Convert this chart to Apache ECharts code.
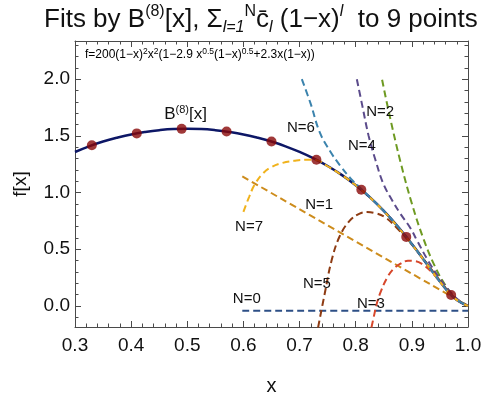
<!DOCTYPE html>
<html>
<head>
<meta charset="utf-8">
<script src="https://cdn.jsdelivr.net/npm/echarts@6/dist/echarts.min.js"></script>
<style>
  html, body { margin: 0; padding: 0; background: #fff; }
  #chart { width: 485px; height: 401px; }
</style>
</head>
<body>
<div id="chart"></div>
<script>
// tick labels
const xTicks = [0.3, 0.4, 0.5, 0.6, 0.7, 0.8, 0.9, 1.0];
const yTicks = [0.0, 0.5, 1.0, 1.5, 2.0];

// the 9 sampled points
const pointX = [0.33, 0.41, 0.49, 0.57, 0.65, 0.73, 0.81, 0.89, 0.97];
const pointY = [1.417, 1.522, 1.562, 1.538, 1.450, 1.289, 1.025, 0.609, 0.097];

// B(8)[x] curve
const bCurve = [[0.30, 1.358], [0.325, 1.408], [0.35, 1.450], [0.375, 1.484], [0.40, 1.513], [0.425, 1.534],
  [0.45, 1.550], [0.475, 1.560], [0.50, 1.562], [0.525, 1.560], [0.55, 1.550], [0.575, 1.534], [0.60, 1.513],
  [0.625, 1.484], [0.65, 1.450], [0.675, 1.408], [0.70, 1.358], [0.725, 1.301], [0.75, 1.234], [0.775, 1.156],
  [0.80, 1.065], [0.825, 0.960], [0.85, 0.838], [0.875, 0.700], [0.90, 0.546], [0.925, 0.381], [0.95, 0.215],
  [0.975, 0.072], [1.0, 0.0]];

// fits with N terms
const fitN0 = [[0.598, -0.043], [1.0, -0.043]];
const fitN1 = [[0.598, 1.143], [1.0, 0.0]];
const fitN2 = [[0.847, 1.995], [0.86, 1.688], [0.88, 1.265], [0.90, 0.903], [0.92, 0.601], [0.94, 0.360],
  [0.96, 0.180], [0.98, 0.060], [1.0, 0.0]];
const fitN3 = [[0.828, -0.19], [0.832, -0.10], [0.838, 0.03], [0.845, 0.13], [0.855, 0.24], [0.866, 0.32],
  [0.879, 0.37], [0.893, 0.398], [0.905, 0.395], [0.918, 0.37], [0.933, 0.31], [0.95, 0.215], [0.968, 0.11],
  [0.985, 0.04], [1.0, 0.0]];
const fitN4 = [[0.802, 2.0], [0.812, 1.76], [0.823, 1.50], [0.835, 1.29], [0.849, 1.08], [0.865, 0.93],
  [0.88, 0.81], [0.897, 0.69], [0.91, 0.57], [0.93, 0.39], [0.95, 0.24], [0.97, 0.115], [0.985, 0.045], [1.0, 0.0]];
const fitN5 = [[0.733, -0.19], [0.745, 0.114], [0.757, 0.40], [0.771, 0.61], [0.789, 0.75], [0.807, 0.815],
  [0.82, 0.828], [0.835, 0.818], [0.852, 0.783], [0.873, 0.69], [0.895, 0.57], [0.915, 0.45], [0.935, 0.32],
  [0.955, 0.19], [0.975, 0.075], [1.0, 0.0]];
const fitN6 = [[0.704, 2.0], [0.72, 1.78], [0.736, 1.53], [0.755, 1.36], [0.772, 1.24], [0.79, 1.13],
  [0.805, 1.055], [0.825, 0.96], [0.85, 0.838], [0.875, 0.70], [0.90, 0.546], [0.925, 0.381], [0.95, 0.215],
  [0.975, 0.072], [1.0, 0.0]];
const fitN7 = [[0.60, 0.83], [0.61, 0.96], [0.62, 1.07], [0.635, 1.17], [0.65, 1.225], [0.67, 1.262],
  [0.69, 1.280], [0.71, 1.290], [0.73, 1.286], [0.75, 1.232], [0.775, 1.155], [0.80, 1.064], [0.825, 0.958],
  [0.85, 0.836], [0.875, 0.698], [0.90, 0.544], [0.925, 0.38], [0.95, 0.214], [0.975, 0.072], [1.0, 0.0]];

// curve labels
const labelNames = ['N=0', 'N=1', 'N=2', 'N=3', 'N=4', 'N=5', 'N=6', 'N=7'];
const labelX = [0.606, 0.735, 0.8435, 0.827, 0.811, 0.731, 0.7025, 0.610];
const labelY = [0.063, 0.894, 1.708, 0.020, 1.408, 0.191, 1.571, 0.697];
const bLabelPos = [0.497, 1.691];

const font = 'Liberation Sans, Arial, sans-serif';
const frame = '#4a4a4a';
const ink = '#111';
const xMinor = [];
for (let v = 30; v <= 100; v += 2) xMinor.push(v / 100);
const yMinor = [];
for (let v = -1; v <= 23; v += 1) yMinor.push(v / 10);

function xAx(position, ticks, len, main) {
  return {
    type: 'value', min: 0.3, max: 1.0, position: position,
    axisLine: { show: main, onZero: false, lineStyle: { color: frame, width: 1 } },
    axisTick: { show: true, inside: true, length: len, customValues: ticks, lineStyle: { color: frame } },
    axisLabel: position === 'bottom' && main ? {
      customValues: xTicks, formatter: v => v.toFixed(1), margin: 9,
      fontSize: 19, color: ink, fontFamily: font
    } : { show: false },
    splitLine: { show: false },
    name: position === 'bottom' && main ? 'x' : '',
    nameLocation: 'middle', nameGap: 49,
    nameTextStyle: { fontSize: 20, color: ink, fontFamily: font }
  };
}
function yAx(position, ticks, len, main) {
  return {
    type: 'value', min: -0.186, max: 2.337, position: position,
    axisLine: { show: main, onZero: false, lineStyle: { color: frame, width: 1 } },
    axisTick: { show: true, inside: true, length: len, customValues: ticks, lineStyle: { color: frame } },
    axisLabel: position === 'left' && main ? {
      customValues: yTicks, formatter: v => v.toFixed(1), margin: 5,
      fontSize: 19, color: ink, fontFamily: font
    } : { show: false },
    splitLine: { show: false },
    name: position === 'left' && main ? 'f[x]' : '',
    nameLocation: 'middle', nameGap: 45,
    nameTextStyle: { fontSize: 19, color: ink, fontFamily: font }
  };
}

function fit(name, data, color) {
  return {
    name: name, type: 'line', data: data, showSymbol: false, smooth: 0.4,
    lineStyle: { color: color, width: 2, type: [7, 4] }, silent: true
  };
}

const chart = echarts.init(document.getElementById('chart'));
chart.setOption({
  animation: false,
  backgroundColor: '#fff',
  title: [{
    text: '{m|Fits by B}{sup|(8)}{m|[x], Σ}{sub|l=1}{sup|N}{m|c̄}{sub|l}{m| (1−x)}{supi|l}{m|  to 9 points}',
    left: 44, top: 4, padding: 0,
    textStyle: {
      fontWeight: 'normal',
      rich: {
        m: { fontSize: 26, fontFamily: font, fontWeight: 'normal', color: ink, lineHeight: 32, verticalAlign: 'middle' },
        sup: { fontSize: 16, fontFamily: font, fontWeight: 'normal', color: ink, lineHeight: 22, verticalAlign: 'top' },
        supi: { fontSize: 16, fontFamily: font, fontWeight: 'normal', fontStyle: 'italic', color: ink, lineHeight: 22, verticalAlign: 'top' },
        sub: { fontSize: 16, fontFamily: font, fontWeight: 'normal', fontStyle: 'italic', color: ink, lineHeight: 20, verticalAlign: 'bottom' }
      }
    }
  }, {
    text: '{t|f=200(1−x)}{s|2}{t|x}{s|2}{t|(1−2.9 x}{s|0.5}{t|(1−x)}{s|0.5}{t|+2.3x(1−x))}',
    left: 85, top: 47, padding: 0,
    textStyle: {
      fontWeight: 'normal',
      rich: {
        t: { fontSize: 12, fontFamily: font, fontWeight: 'normal', color: '#000', lineHeight: 16, verticalAlign: 'middle' },
        s: { fontSize: 8.5, fontFamily: font, fontWeight: 'normal', color: '#000', lineHeight: 10, verticalAlign: 'top' }
      }
    }
  }],
  grid: { left: 75, right: 17, top: 41, bottom: 66 },
  xAxis: [xAx('bottom', xTicks, 6, true), xAx('bottom', xMinor, 3.5, false),
          xAx('top', xTicks, 6, true), xAx('top', xMinor, 3.5, false)],
  yAxis: [yAx('left', yTicks, 6, true), yAx('left', yMinor, 3.5, false),
          yAx('right', yTicks, 6, true), yAx('right', yMinor, 3.5, false)],
  series: [
    {
      name: 'B8', type: 'line', data: bCurve, showSymbol: false, smooth: 0.4, silent: true,
      lineStyle: { color: '#0d1766', width: 2.5 }
    },
    fit('N=0', fitN0, '#2d4f86'),
    fit('N=1', fitN1, '#cd8c1c'),
    fit('N=2', fitN2, '#6e9a22'),
    fit('N=3', fitN3, '#d7472b'),
    fit('N=4', fitN4, '#5b4b8b'),
    fit('N=5', fitN5, '#8e3b12'),
    fit('N=7', fitN7, '#f0b21c'),
    fit('N=6', fitN6, '#3b83ad'),
    {
      name: 'points', type: 'scatter', symbol: 'circle', symbolSize: 10, silent: true,
      data: pointX.map((x, i) => [x, pointY[i]]),
      itemStyle: { color: '#880808' }, z: 5
    }
  ]
});

// text labels placed at data positions
const labelEls = labelNames.map((n, i) => {
  const p = chart.convertToPixel({ gridIndex: 0 }, [labelX[i], labelY[i]]);
  return {
    type: 'text', x: p[0], y: p[1], z: 100, silent: true,
    style: { text: n, fontSize: 15, fontFamily: font, fill: ink, align: 'center', verticalAlign: 'middle' }
  };
});
const bp = chart.convertToPixel({ gridIndex: 0 }, bLabelPos);
labelEls.push({
  type: 'text', x: bp[0], y: bp[1], z: 100, silent: true,
  style: {
    text: '{m|B}{s|(8)}{m|[x]}', align: 'center', verticalAlign: 'middle',
    rich: {
      m: { fontSize: 17, fontFamily: font, fill: ink, lineHeight: 20, verticalAlign: 'middle' },
      s: { fontSize: 11, fontFamily: font, fill: ink, lineHeight: 12, verticalAlign: 'top' }
    }
  }
});
chart.setOption({ graphic: labelEls });
</script>
</body>
</html>
